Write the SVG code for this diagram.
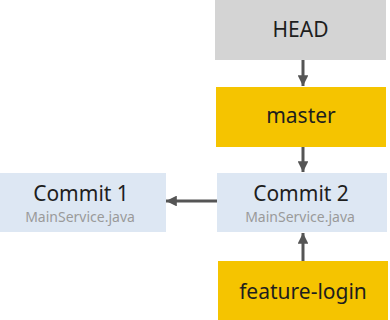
<svg xmlns="http://www.w3.org/2000/svg" width="390" height="320" viewBox="0 0 390 320">
<style>
.t{font-family:"Noto Sans","DejaVu Sans",sans-serif;font-size:21px;fill:#1e1e1e;text-anchor:middle}
.s{font-family:"Noto Sans","DejaVu Sans",sans-serif;font-size:14px;fill:#9a9a9a;text-anchor:middle}
.c{stroke:#555;stroke-width:3;fill:none}
</style>
<defs>
<marker id="a" viewBox="0 0 10 10" refX="10" refY="5" markerWidth="3.6" markerHeight="3.6" orient="auto" markerUnits="strokeWidth">
<path d="M0,0L10,5L0,10z" fill="#555"/>
</marker>
</defs>
<rect width="390" height="320" fill="#fff"/>
<g id="head"><rect x="215" y="0" width="171" height="60" fill="#d4d4d4"/><text class="t" x="300.5" y="37">HEAD</text></g>
<g id="master"><rect x="216" y="87" width="170" height="60" fill="#f5c400"/><text class="t" x="301" y="123">master</text></g>
<g id="commit1"><rect x="0" y="173" width="166" height="59" fill="#dde7f3"/><text class="t" x="81" y="200.5">Commit 1</text><text class="s" x="80" y="222">MainService.java</text></g>
<g id="commit2"><rect x="217" y="173" width="170" height="59" fill="#dde7f3"/><text class="t" x="301" y="200.5">Commit 2</text><text class="s" x="300" y="222">MainService.java</text></g>
<g id="feature"><rect x="218" y="261" width="170" height="59" fill="#f5c400"/><text class="t" x="303" y="299">feature-login</text></g>
<g id="connectors">
<line class="c" x1="303" y1="60" x2="303" y2="86" marker-end="url(#a)"/>
<line class="c" x1="303" y1="147" x2="303" y2="172" marker-end="url(#a)"/>
<line class="c" x1="217" y1="201" x2="166" y2="201" marker-end="url(#a)"/>
<line class="c" x1="303" y1="261" x2="303" y2="233" marker-end="url(#a)"/>
</g>
</svg>
